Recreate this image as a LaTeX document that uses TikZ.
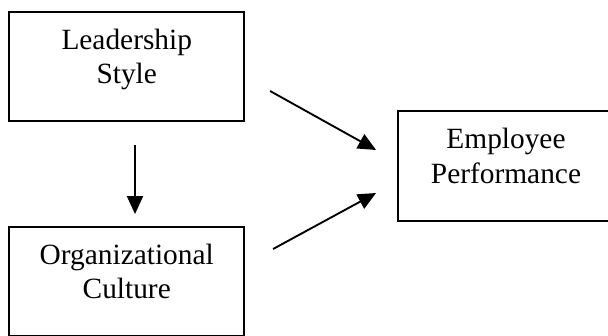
\documentclass[tikz,border=0pt]{standalone}
\usepackage{fontspec}
\setmainfont{Liberation Serif}
\usetikzlibrary{arrows.meta}
\begin{document}
\begin{tikzpicture}[x=1pt,y=1pt,
    box/.style={draw, line width=0.75pt, inner sep=0pt, align=center,
      minimum height=43.6pt, text height=21.6pt, text depth=8pt,
      font=\fontsize{11.75}{13.8}\selectfont},
    arr/.style={line width=0.75pt, -{Triangle[length=7.2pt,width=6.4pt]}}]
  \useasboundingbox (0,0) rectangle (243.2,-134);
  \node[box, minimum width=93.9pt] (lead) at (50.7,-26.6) {Leadership\\Style};
  \node[box, minimum width=93.9pt] (org) at (50.7,-112.6) {Organizational\\Culture};
  \node[box, minimum width=86.4pt, minimum height=44pt] (perf) at (202.4,-66.4) {Employee\\Performance};
  \draw[arr] ([xshift=3.3pt,yshift=-9.2pt]lead.south) -- ([xshift=3.3pt,yshift=4.8pt]org.north);
  \draw[arr] ([xshift=10pt,yshift=-9.8pt]lead.east) -- ([xshift=-8.4pt,yshift=6.4pt]perf.west);
  \draw[arr] ([xshift=11.2pt,yshift=13pt]org.east) -- ([xshift=-8.4pt,yshift=-10.8pt]perf.west);
\end{tikzpicture}
\end{document}
